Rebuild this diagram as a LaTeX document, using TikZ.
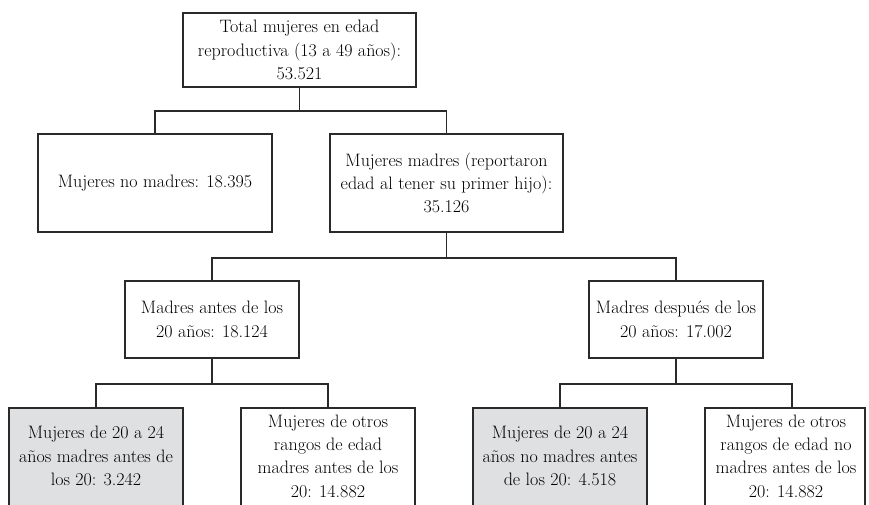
\documentclass[tikz,border=0pt]{standalone}
\usepackage{fontspec}
\setmainfont{Latin Modern Roman}
\definecolor{boxgray}{HTML}{DFE0E2}
\definecolor{linecol}{HTML}{2A2A2A}
\begin{document}
\begin{tikzpicture}[x=1pt,y=-1pt,
  box/.style={draw=linecol, line width=1.6pt, inner sep=0pt, align=center,
    font=\fontsize{18}{23.3}\selectfont, text=black},
  txt/.style={inner sep=0pt, align=center, font=\fontsize{18}{23.3}\selectfont, text=black},
  conn/.style={draw=linecol, line width=1.6pt}]
\useasboundingbox (0,0) rectangle (869,505);
\clip (0,0) rectangle (869,505);
\node[box, minimum width=233pt, minimum height=74pt] (top) at (299.5,50)
  {Total mujeres en edad\\reproductiva (13 a 49 años):\\53.521};
\node[box, minimum width=234pt, minimum height=98pt] (nom) at (155,183)
  {Mujeres no madres: 18.395};
\node[box, minimum width=233pt, minimum height=98pt] (mad) at (446.5,183)
  {Mujeres madres (reportaron\\edad al tener su primer hijo):\\35.126};
\node[box, minimum width=174pt, minimum height=77pt] (ant) at (212,319.5)
  {Madres antes de los\\20 años: 18.124};
\node[box, minimum width=174pt, minimum height=77pt] (des) at (676,319.5)
  {Madres después de los\\20 años: 17.002};
\node[box, fill=boxgray, minimum width=174pt, minimum height=110pt, anchor=north] (g1) at (96,407) {};
\node[box, minimum width=174pt, minimum height=110pt, anchor=north] (o1) at (328,407) {};
\node[box, fill=boxgray, minimum width=174pt, minimum height=110pt, anchor=north] (g2) at (560,407) {};
\node[box, minimum width=160pt, minimum height=110pt, anchor=north] (o2) at (785,407) {};
\node[txt] (g1t) at (96,456) {Mujeres de 20 a 24\\años madres antes de\\los 20: 3.242};
\node[txt] (o1t) at (328,456) {Mujeres de otros\\rangos de edad\\madres antes de los\\20: 14.882};
\node[txt] (g2t) at (560,456) {Mujeres de 20 a 24\\años no madres antes\\de los 20: 4.518};
\node[txt] (o2t) at (786,456) {Mujeres de otros\\rangos de edad no\\madres antes de los\\20: 14.882};
\draw[conn] (top.south) -- ++(0,23) coordinate (b1);
\draw[conn] (b1) -| (nom.north);
\draw[conn] (b1) -| (mad.north);
\draw[conn] (mad.south) -- ++(0,25) coordinate (b2);
\draw[conn] (b2) -| (ant.north);
\draw[conn] (b2) -| (des.north);
\draw[conn] (ant.south) -- ++(0,25) coordinate (b3);
\draw[conn] (b3) -| (g1.north);
\draw[conn] (b3) -| (o1.north);
\draw[conn] (des.south) -- ++(0,25) coordinate (b4);
\draw[conn] (b4) -| (g2.north);
\draw[conn] (b4) -| ([xshift=7pt]o2.north);
\end{tikzpicture}
\end{document}
